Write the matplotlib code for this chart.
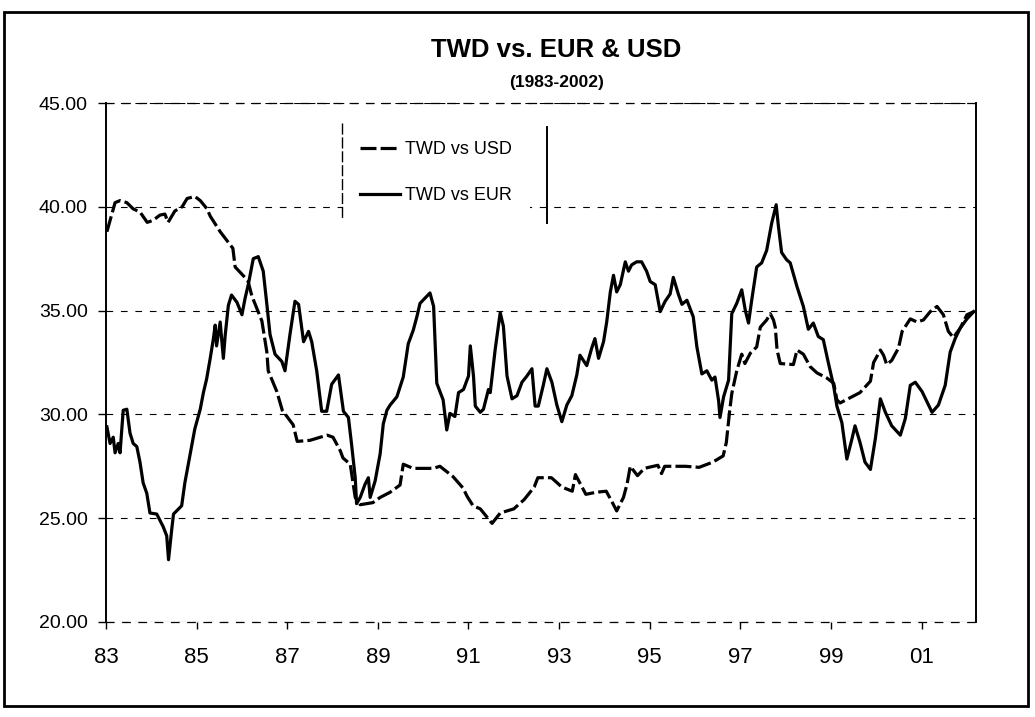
import matplotlib
matplotlib.use('Agg')
import matplotlib.pyplot as plt
from matplotlib.lines import Line2D
from matplotlib.patches import Rectangle

plt.rcParams['font.family'] = ['Liberation Sans', 'DejaVu Sans']

# TWD per USD (decimal years)
usd_year = [1983.02, 1983.20, 1983.31, 1983.46, 1983.60, 1983.75, 1983.91, 1984.04,
            1984.19, 1984.30, 1984.37, 1984.52, 1984.68, 1984.79, 1984.96, 1985.08,
            1985.23, 1985.30, 1985.52, 1985.80, 1985.85, 1986.13, 1986.22, 1986.33,
            1986.44, 1986.55, 1986.58, 1986.77, 1986.89, 1987.13, 1987.22, 1987.50,
            1987.88, 1988.01, 1988.17, 1988.23, 1988.39, 1988.50, 1988.61, 1988.89,
            1989.05, 1989.27, 1989.49, 1989.56, 1989.78, 1990.22, 1990.37, 1990.66,
            1990.88, 1990.97, 1991.10, 1991.26, 1991.52, 1991.70, 1992.00, 1992.23,
            1992.45, 1992.53, 1992.83, 1993.06, 1993.29, 1993.36, 1993.59, 1993.82,
            1994.04, 1994.20, 1994.27, 1994.42, 1994.50, 1994.57, 1994.73, 1994.88,
            1995.18, 1995.26, 1995.33, 1995.79, 1996.09, 1996.39, 1996.62, 1996.69,
            1996.76, 1996.81, 1996.92, 1997.03, 1997.10, 1997.22, 1997.36, 1997.44,
            1997.58, 1997.66, 1997.73, 1997.77, 1997.81, 1997.88, 1998.17, 1998.25,
            1998.39, 1998.54, 1998.69, 1998.91, 1999.06, 1999.13, 1999.20, 1999.42,
            1999.64, 1999.87, 1999.94, 2000.09, 2000.16, 2000.23, 2000.34, 2000.49,
            2000.57, 2000.75, 2000.90, 2001.04, 2001.19, 2001.34, 2001.48, 2001.59,
            2001.70, 2001.85, 2002.00, 2002.15]
usd_rate = [38.8, 40.2, 40.3, 40.2, 39.9, 39.75, 39.25, 39.35,
            39.6, 39.65, 39.25, 39.8, 40.0, 40.4, 40.5, 40.3,
            39.9, 39.55, 38.8, 38.0, 37.1, 36.45, 35.7, 35.1,
            34.5, 33.0, 32.1, 31.1, 30.2, 29.5, 28.7, 28.75,
            29.0, 28.9, 28.25, 27.9, 27.6, 26.0, 25.65, 25.75,
            26.0, 26.25, 26.6, 27.6, 27.4, 27.4, 27.5, 27.0,
            26.45, 26.05, 25.6, 25.45, 24.75, 25.25, 25.45, 25.9,
            26.5, 26.95, 26.95, 26.5, 26.3, 27.1, 26.15, 26.25,
            26.3, 25.65, 25.35, 26.0, 26.65, 27.5, 27.05, 27.4,
            27.55, 27.15, 27.5, 27.5, 27.45, 27.7, 28.0, 28.65,
            30.1, 31.0, 32.1, 32.9, 32.45, 32.95, 33.25, 34.2,
            34.55, 34.85, 34.55, 34.2, 33.1, 32.45, 32.4, 33.1,
            32.9, 32.3, 32.0, 31.75, 31.5, 30.7, 30.55, 30.8,
            31.05, 31.6, 32.5, 33.1, 32.85, 32.4, 32.6, 33.2,
            34.0, 34.6, 34.45, 34.55, 34.95, 35.2, 34.8, 34.0,
            33.7, 34.15, 34.8, 34.95]

# TWD per EUR
eur_year = [1983.02, 1983.09, 1983.16, 1983.20, 1983.27, 1983.31, 1983.38, 1983.46,
            1983.53, 1983.60, 1983.68, 1983.75, 1983.82, 1983.90, 1983.97, 1984.12,
            1984.26, 1984.34, 1984.38, 1984.45, 1984.49, 1984.67, 1984.74, 1984.85,
            1984.96, 1985.08, 1985.15, 1985.22, 1985.30, 1985.37, 1985.41, 1985.44,
            1985.52, 1985.59, 1985.63, 1985.70, 1985.77, 1985.89, 1986.00, 1986.07,
            1986.14, 1986.25, 1986.36, 1986.47, 1986.55, 1986.62, 1986.73, 1986.88,
            1986.95, 1987.06, 1987.17, 1987.25, 1987.36, 1987.47, 1987.54, 1987.65,
            1987.76, 1987.87, 1987.98, 1988.13, 1988.24, 1988.35, 1988.42, 1988.50,
            1988.53, 1988.61, 1988.72, 1988.79, 1988.83, 1988.94, 1989.05, 1989.12,
            1989.20, 1989.27, 1989.42, 1989.56, 1989.67, 1989.78, 1989.86, 1989.93,
            1990.04, 1990.15, 1990.23, 1990.30, 1990.44, 1990.52, 1990.59, 1990.70,
            1990.78, 1990.89, 1991.00, 1991.04, 1991.11, 1991.15, 1991.26, 1991.33,
            1991.44, 1991.48, 1991.59, 1991.70, 1991.77, 1991.85, 1991.96, 1992.07,
            1992.18, 1992.29, 1992.40, 1992.47, 1992.54, 1992.65, 1992.73, 1992.84,
            1992.95, 1993.06, 1993.17, 1993.28, 1993.39, 1993.46, 1993.61, 1993.72,
            1993.79, 1993.87, 1993.98, 1994.05, 1994.13, 1994.20, 1994.27, 1994.35,
            1994.46, 1994.53, 1994.60, 1994.71, 1994.82, 1994.93, 1995.01, 1995.12,
            1995.23, 1995.34, 1995.45, 1995.52, 1995.63, 1995.71, 1995.82, 1995.96,
            1996.04, 1996.15, 1996.26, 1996.37, 1996.44, 1996.52, 1996.55, 1996.63,
            1996.74, 1996.81, 1996.92, 1997.03, 1997.11, 1997.18, 1997.25, 1997.36,
            1997.47, 1997.58, 1997.69, 1997.79, 1997.84, 1997.91, 1998.02, 1998.10,
            1998.25, 1998.39, 1998.50, 1998.61, 1998.72, 1998.83, 1998.94, 1999.06,
            1999.13, 1999.24, 1999.35, 1999.46, 1999.53, 1999.64, 1999.75, 1999.87,
            1999.98, 2000.09, 2000.20, 2000.34, 2000.53, 2000.64, 2000.75, 2000.86,
            2001.01, 2001.12, 2001.23, 2001.37, 2001.52, 2001.63, 2001.74, 2001.85,
            2002.00, 2002.15]
eur_rate = [29.4, 28.6, 28.9, 28.15, 28.6, 28.15, 30.2, 30.25,
            29.1, 28.6, 28.45, 27.7, 26.7, 26.2, 25.25, 25.2,
            24.6, 24.15, 23.0, 24.45, 25.2, 25.6, 26.7, 28.0,
            29.3, 30.25, 31.05, 31.7, 32.7, 33.65, 34.3, 33.3,
            34.45, 32.7, 33.8, 35.25, 35.75, 35.4, 34.8, 35.6,
            36.25, 37.5, 37.6, 36.9, 35.3, 33.85, 32.9, 32.55,
            32.1, 33.85, 35.45, 35.3, 33.5, 34.0, 33.5, 32.1,
            30.15, 30.15, 31.45, 31.9, 30.15, 29.85, 28.55, 26.95,
            25.7, 26.0, 26.65, 26.95, 26.0, 26.8, 28.1, 29.55,
            30.2, 30.45, 30.85, 31.8, 33.4, 34.05, 34.7, 35.35,
            35.6, 35.85, 35.2, 31.5, 30.7, 29.25, 30.05, 29.9,
            31.05, 31.2, 31.85, 33.3, 31.85, 30.4, 30.1, 30.25,
            31.2, 31.05, 33.15, 34.9, 34.25, 31.85, 30.75, 30.9,
            31.55, 31.85, 32.2, 30.4, 30.4, 31.4, 32.2, 31.55,
            30.45, 29.65, 30.45, 30.9, 31.9, 32.85, 32.35, 33.2,
            33.65, 32.7, 33.5, 34.45, 35.9, 36.7, 35.9, 36.25,
            37.35, 36.9, 37.2, 37.35, 37.35, 36.9, 36.4, 36.25,
            34.95, 35.45, 35.8, 36.6, 35.8, 35.3, 35.5, 34.7,
            33.25, 31.95, 32.1, 31.65, 31.8, 30.65, 29.85, 30.85,
            31.65, 34.85, 35.35, 36.0, 35.0, 34.4, 35.5, 37.1,
            37.3, 37.9, 39.2, 40.1, 39.05, 37.8, 37.45, 37.3,
            36.15, 35.2, 34.1, 34.4, 33.75, 33.6, 32.5, 31.35,
            30.4, 29.6, 27.85, 28.8, 29.45, 28.65, 27.7, 27.35,
            28.85, 30.75, 30.1, 29.45, 29.0, 29.8, 31.4, 31.55,
            31.1, 30.6, 30.1, 30.45, 31.4, 33.0, 33.65, 34.15,
            34.6, 34.95]

tick_years = [1983, 1985, 1987, 1989, 1991, 1993, 1995, 1997, 1999, 2001]
tick_labels = ['83', '85', '87', '89', '91', '93', '95', '97', '99', '01']
y_ticks = [20, 25, 30, 35, 40, 45]

W, H = 1035, 717
fig = plt.figure(figsize=(W / 100, H / 100), dpi=100)
ax = fig.add_axes([106 / W, 1 - 622 / H, 870 / W, 519 / H])

ax.plot(usd_year, usd_rate, color='black', lw=2.3, linestyle=(0, (5, 1.3)),
        label='TWD vs USD')
ax.plot(eur_year, eur_rate, color='black', lw=2.3, label='TWD vs EUR')

ax.set_xlim(1983.0, 2002.2)
ax.set_ylim(20, 45)
ax.set_yticks(y_ticks)
ax.set_yticklabels(['%.2f' % v for v in y_ticks])
ax.set_xticks(tick_years)
ax.set_xticklabels(tick_labels)
ax.tick_params(axis='y', direction='out', length=6, width=1, labelsize=14, pad=7)
ax.tick_params(axis='x', direction='out', length=5, width=1, labelsize=16, pad=13)

# faint broken gridlines, like the scanned original
ax.grid(axis='y', color='black', lw=0.8, linestyle=(0, (6, 7)))
ax.set_axisbelow(True)
ax.spines['left'].set_linewidth(1.4)
ax.spines['right'].set_linewidth(1.4)
for side in ['top', 'bottom']:
    ax.spines[side].set_linewidth(0.9)
    ax.spines[side].set_linestyle((0, (6, 7)))

leg = ax.legend(loc='upper left', bbox_to_anchor=(342 / W, 1 - 123 / H),
                bbox_transform=fig.transFigure, fontsize=13, frameon=True,
                fancybox=False, framealpha=1, facecolor='white', edgecolor='none',
                borderpad=1.0, borderaxespad=0, handlelength=2.2,
                handletextpad=0.3, labelspacing=1.6)

# legend only shows its left and right edges in the original
fig.add_artist(Line2D([342 / W, 342 / W], [1 - 123 / H, 1 - 220 / H],
                      color='black', lw=1, linestyle=(0, (8, 2))))
fig.add_artist(Line2D([547 / W, 547 / W], [1 - 127 / H, 1 - 223 / H],
                      color='black', lw=1.4))

fig.text(556 / W, 1 - 50 / H, 'TWD vs. EUR & USD', ha='center', va='center',
         fontsize=18.5, fontweight='bold')
fig.text(557 / W, 1 - 83 / H, '(1983-2002)', ha='center', va='center',
         fontsize=12.5, fontweight='bold')

# outer chart border
fig.add_artist(Rectangle((4 / W, 1 - 706 / H), 1024 / W, 694 / H,
                         transform=fig.transFigure, fill=False, lw=2, ec='black'))

fig.savefig('out.png', dpi=100)
